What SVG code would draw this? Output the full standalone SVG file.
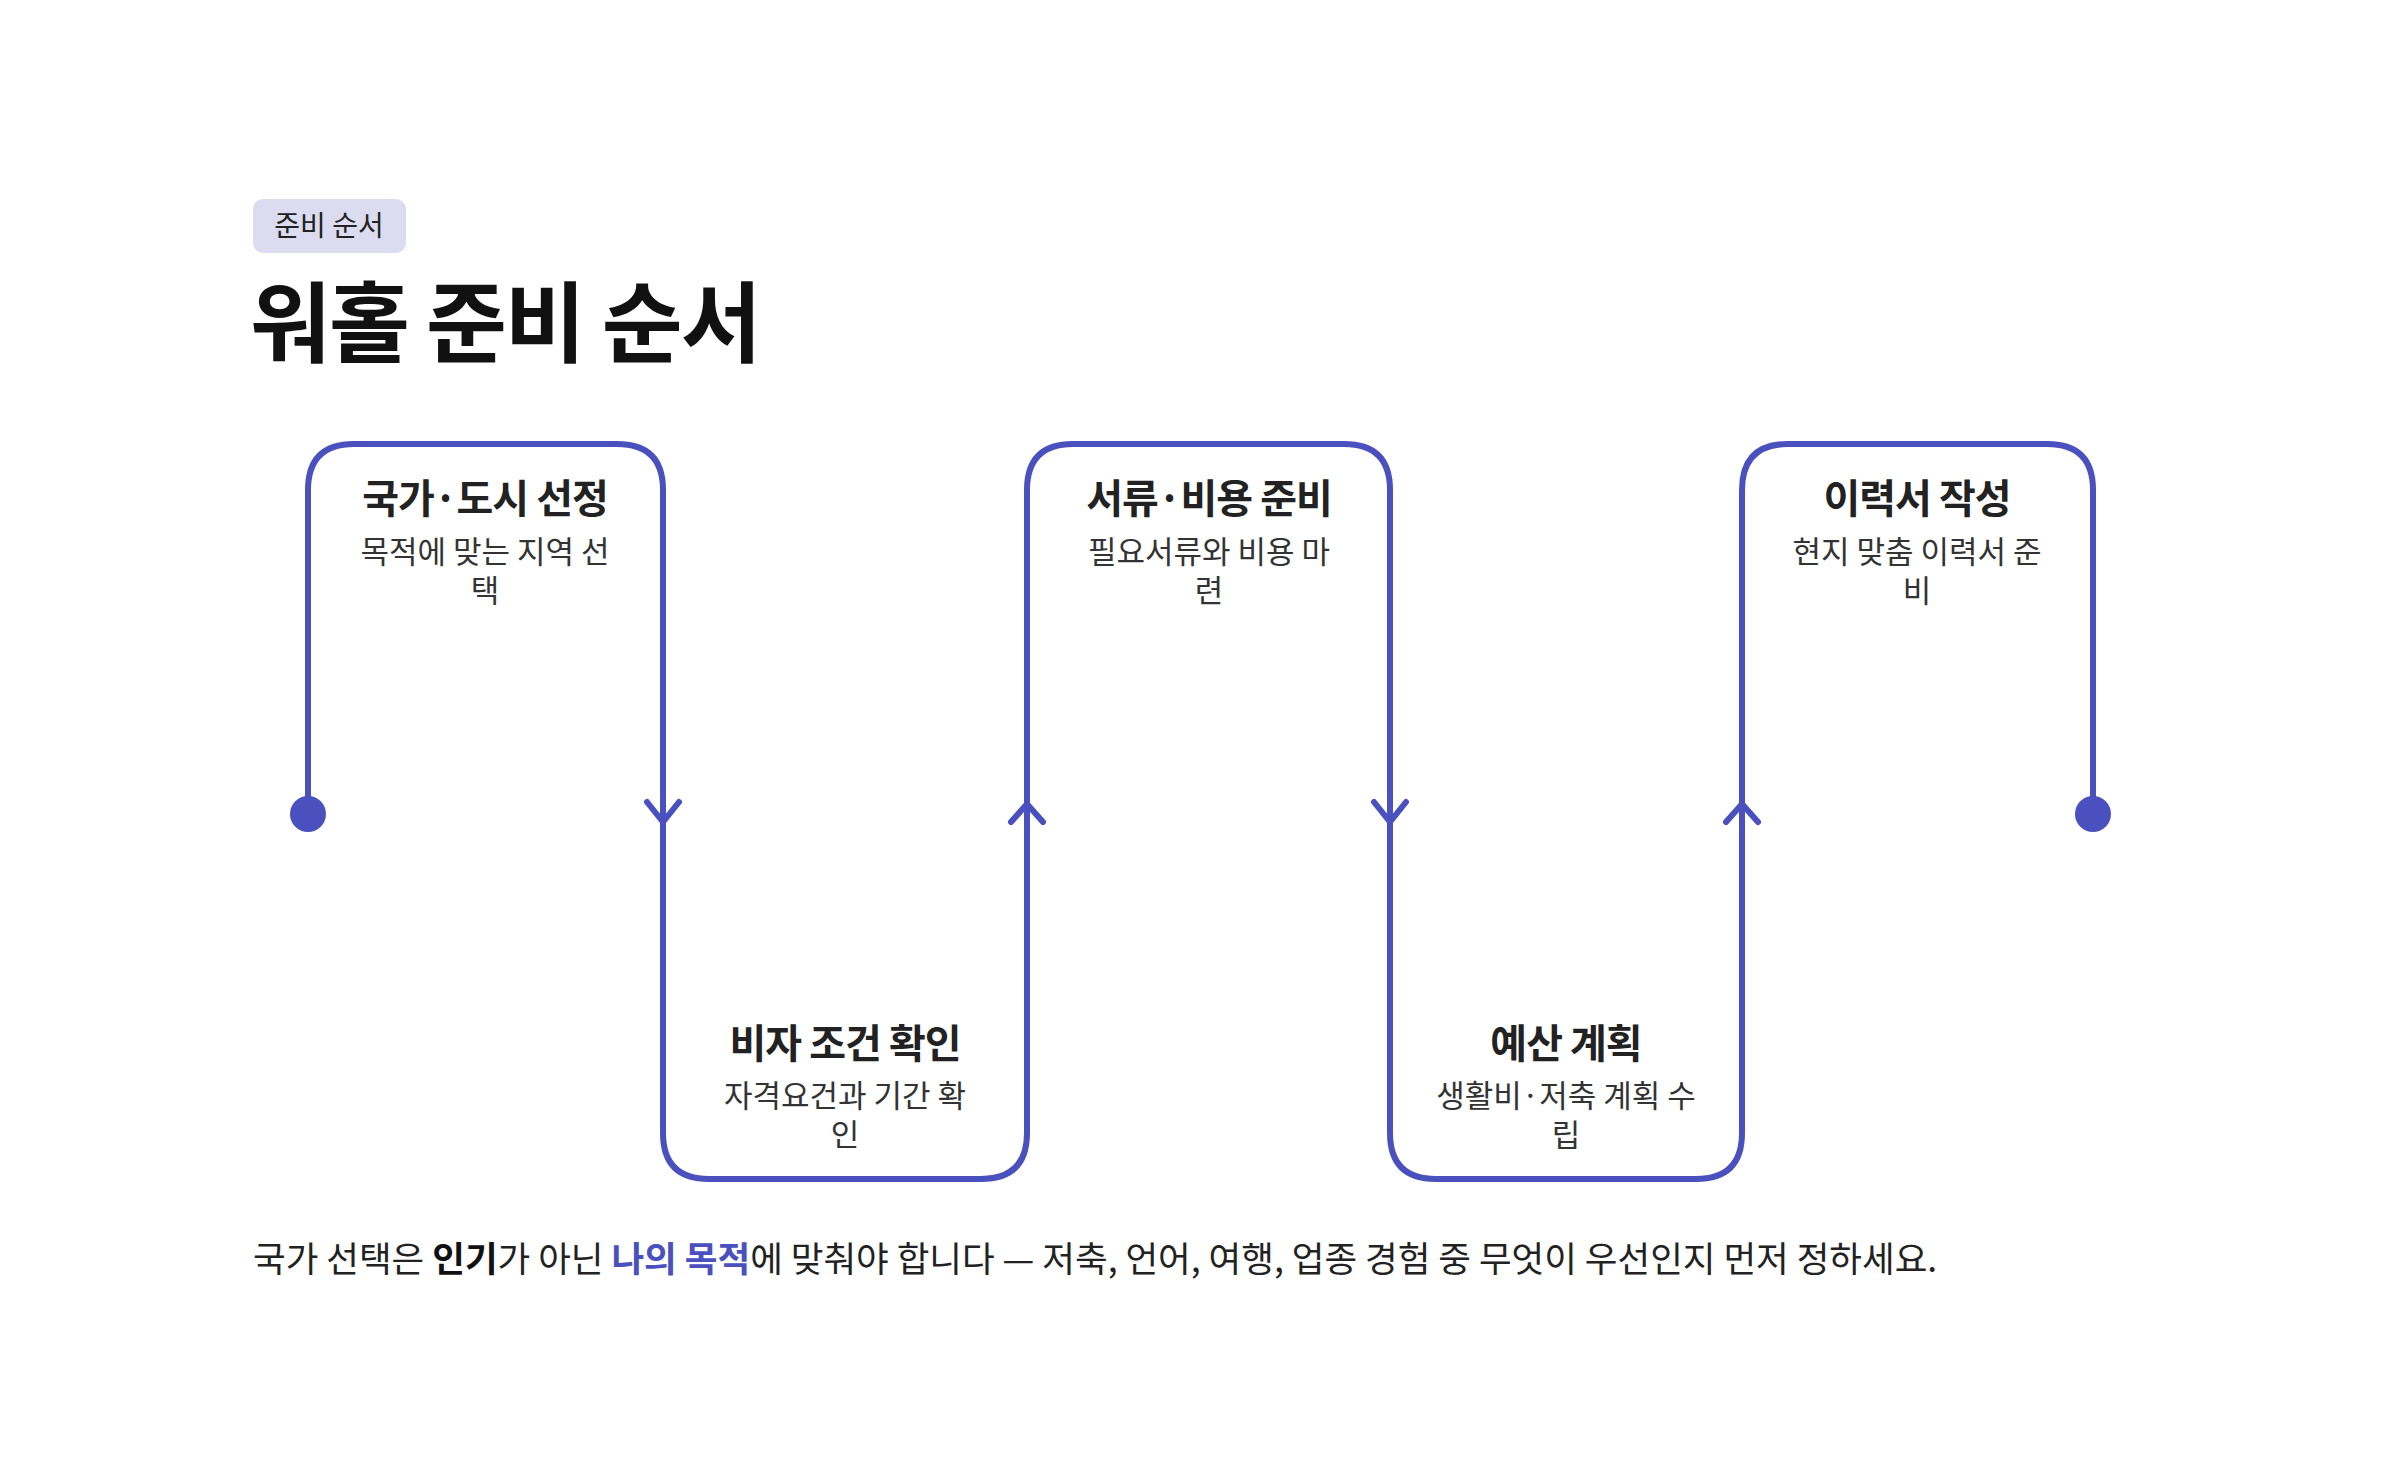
<svg xmlns="http://www.w3.org/2000/svg" width="2400" height="1482" viewBox="0 0 2400 1482">
<style>
text{font-family:"Noto Sans CJK KR","Noto Sans",sans-serif;fill:#222}
.t{font-size:40px;font-weight:700;text-anchor:middle;letter-spacing:-1px}
.d{font-size:31px;text-anchor:middle;fill:#333}
.ln{fill:none;stroke:#4a50bd;stroke-width:6;stroke-linecap:round;stroke-linejoin:round}
</style>
<rect width="2400" height="1482" fill="#fff"/>
<g id="header">
<rect x="253" y="199" width="153" height="54" rx="10" fill="#dcdcf0"/>
<text x="329" y="236" font-size="28" text-anchor="middle" fill="#333">준비 순서</text>
<text x="250" y="355" font-size="88" font-weight="700" letter-spacing="-2" style="fill:#111">워홀 준비 순서</text>
</g>
<g id="connectors">
<path class="ln" d="M308 814 V490 Q308 444 354 444 H617 Q663 444 663 490 V1133 Q663 1179 709 1179 H981 Q1027 1179 1027 1133 V490 Q1027 444 1073 444 H1344 Q1390 444 1390 490 V1133 Q1390 1179 1436 1179 H1696 Q1742 1179 1742 1133 V490 Q1742 444 1788 444 H2047 Q2093 444 2093 490 V814"/>
<circle cx="308" cy="814" r="18" fill="#4a50bd"/>
<circle cx="2093" cy="814" r="18" fill="#4a50bd"/>
<polyline class="ln" points="647,802 663,822 679,802"/>
<polyline class="ln" points="1374,802 1390,822 1406,802"/>
<polyline class="ln" points="1011,822 1027,804 1043,822"/>
<polyline class="ln" points="1726,822 1742,804 1758,822"/>
</g>
<g id="n1"><text class="t" x="485" y="513">국가·도시 선정</text><text class="d" x="485" y="563">목적에 맞는 지역 선</text><text class="d" x="485" y="602">택</text></g>
<g id="n2"><text class="t" x="845" y="1058">비자 조건 확인</text><text class="d" x="845" y="1107">자격요건과 기간 확</text><text class="d" x="845" y="1146">인</text></g>
<g id="n3"><text class="t" x="1209" y="513">서류·비용 준비</text><text class="d" x="1209" y="563">필요서류와 비용 마</text><text class="d" x="1209" y="602">련</text></g>
<g id="n4"><text class="t" x="1566" y="1058">예산 계획</text><text class="d" x="1566" y="1107">생활비·저축 계획 수</text><text class="d" x="1566" y="1146">립</text></g>
<g id="n5"><text class="t" x="1917" y="513">이력서 작성</text><text class="d" x="1917" y="563">현지 맞춤 이력서 준</text><text class="d" x="1917" y="602">비</text></g>
<g id="footer"><text x="253" y="1272" font-size="35.5" fill="#333">국가 선택은 <tspan font-weight="700" style="fill:#111">인기</tspan>가 아닌 <tspan font-weight="700" style="fill:#4a50bd">나의 목적</tspan>에 맞춰야 합니다 — 저축, 언어, 여행, 업종 경험 중 무엇이 우선인지 먼저 정하세요.</text></g>
</svg>
